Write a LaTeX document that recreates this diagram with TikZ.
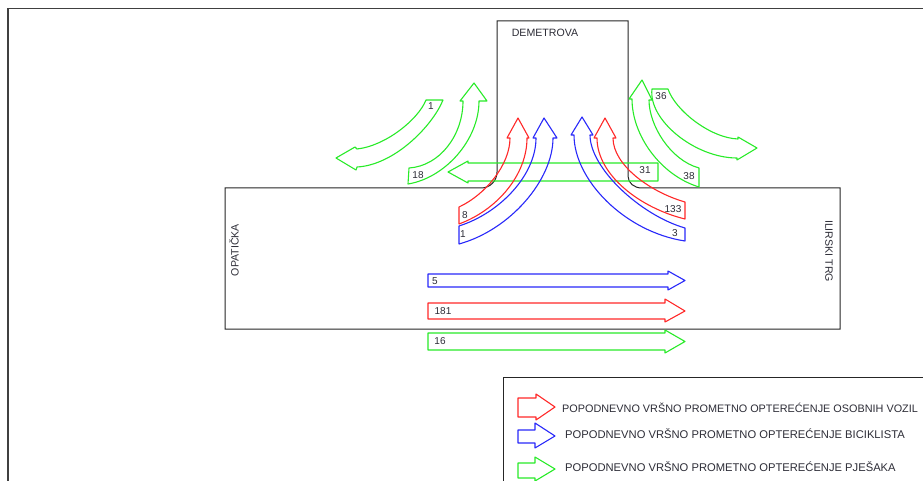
\documentclass[tikz,border=0pt]{standalone}
\usepackage{fontspec}
\setmainfont{Liberation Sans}
\definecolor{ared}{RGB}{255,40,40}
\definecolor{ablue}{RGB}{40,40,250}
\definecolor{agreen}{RGB}{40,235,40}
\definecolor{txt}{RGB}{45,45,55}
\begin{document}
\begin{tikzpicture}[x=1pt,y=-1pt,
  road/.style={draw=black!85,line width=1pt},
  frame/.style={draw=black!75,line width=1.8pt},
  redarr/.style={draw=ared,line width=1.1pt,line join=round},
  bluearr/.style={draw=ablue,line width=1.1pt,line join=round},
  greenarr/.style={draw=agreen,line width=1.1pt,line join=round},
  lbl/.style={text=txt,font=\fontsize{10.6}{12}\selectfont,inner sep=0pt},
  num/.style={text=txt,font=\fontsize{10}{12}\selectfont,inner sep=0pt},
  leg/.style={text=txt,font=\fontsize{11.2}{12}\selectfont,inner sep=0pt,anchor=west}]
\useasboundingbox (0,0) rectangle (923,481);
\fill[white] (0,0) rectangle (923,481);
% outer frame
\draw[frame] (8,490) -- (8,8.5) -- (935,8.5);
% road outline
\draw[road] (225,329) -- (225,188) -- (481,188) .. controls (490,188) and (497,181) .. (497,172)
  -- (497,21) -- (628,21) -- (628,176) .. controls (628,183) and (634,188) .. (642,188)
  -- (840,188) -- (840,329) -- cycle;
% street names
\node[lbl] (dem) at (545,33) {DEMETROVA};
\node[lbl,rotate=90] (opa) at (234,250) {OPATIČKA};
\node[lbl,rotate=-90] (ili) at (829,251) {ILIRSKI TRG};
% green pedestrian arrows top-left
\draw[greenarr] (426,100) -- (443,100) .. controls (433,125) and (395,165) .. (357,167)
  -- (356,170) -- (336,158) -- (355,147) -- (357,149) .. controls (385,146) and (418,120) .. (426,100) -- cycle;
\draw[greenarr] (409,168) .. controls (440,166) and (463,135) .. (463,101) -- (460,101) -- (474,83)
  -- (487,101) -- (479,101) .. controls (479,140) and (445,178) .. (408,184) -- cycle;
% green top-right
\draw[greenarr] (652,89) -- (668,89) .. controls (675,110) and (710,138) .. (738,139) -- (738,137)
  -- (757,148) -- (737,160) -- (737,158) .. controls (695,158) and (648,120) .. (652,89) -- cycle;
\draw[greenarr] (699,168) .. controls (670,160) and (649,125) .. (649,100) -- (652,100) -- (642,80)
  -- (629,99) -- (632,99) .. controls (632,135) and (660,175) .. (699,187) -- cycle;
% green crossing 31
\draw[greenarr] (658,163) -- (468,163) -- (468,161) -- (448,172) -- (468,183) -- (468,181) -- (658,181) -- cycle;
% red and blue turning arrows
\draw[redarr] (459,207) .. controls (485,195) and (510,165) .. (510,138) -- (507,138) -- (518,118)
  -- (529,138) -- (527,138) .. controls (527,175) and (497,210) .. (459,224) -- cycle;
\draw[bluearr] (459,226) .. controls (500,213) and (536,175) .. (536,138) -- (533,138) -- (544,118)
  -- (557,138) -- (553,138) .. controls (553,180) and (510,230) .. (459,244) -- cycle;
\draw[redarr] (685,202) .. controls (650,192) and (613,165) .. (613,138) -- (616,138) -- (605,118)
  -- (594,138) -- (597,138) .. controls (597,175) and (640,208) .. (685,219) -- cycle;
\draw[bluearr] (685,228) .. controls (640,215) and (590,168) .. (590,135) -- (593,135) -- (582,117)
  -- (571,135) -- (574,135) .. controls (574,180) and (625,232) .. (685,241) -- cycle;
% straight arrows
\draw[bluearr] (428,274) -- (668,274) -- (668,271) -- (685,280.5) -- (668,290) -- (668,287) -- (428,287) -- cycle;
\draw[redarr] (428,303) -- (665,303) -- (665,299) -- (685,311) -- (665,322) -- (665,319) -- (428,319) -- cycle;
\draw[greenarr] (428,333) -- (665,333) -- (665,330) -- (685,341.5) -- (665,353) -- (665,350) -- (428,350) -- cycle;
% numbers
\node[num] (n1) at (431,106) {1};
\node[num] (n18) at (418,175) {18};
\node[num] (n36) at (661,96) {36};
\node[num] (n38) at (689,176) {38};
\node[num] (n31) at (645,170) {31};
\node[num] (n8) at (465,215) {8};
\node[num] (nb1) at (463,234) {1};
\node[num] (n133) at (673,209) {133};
\node[num] (n3) at (675,233) {3};
\node[num] (n5) at (435,281) {5};
\node[num] (n181) at (443,311) {181};
\node[num] (n16) at (440,341) {16};
% legend
\draw[road] (503,490) -- (503,377) -- (935,377);
\draw[redarr] (518,398) -- (536,398) -- (536,394) -- (555,407) -- (536,420) -- (536,417) -- (518,417) -- cycle;
\draw[bluearr] (518,430) -- (535,430) -- (535,423) -- (555,436) -- (535,448) -- (535,443) -- (518,443) -- cycle;
\draw[greenarr] (518,463) -- (535,463) -- (535,457) -- (555,469) -- (535,481) -- (535,478) -- (518,478) -- cycle;
\node[leg,font=\fontsize{10.85}{12}\selectfont] (l1) at (562,407.5) {POPODNEVNO VRŠNO PROMETNO OPTEREĆENJE OSOBNIH VOZIL};
\node[leg] (l2) at (565,434) {POPODNEVNO VRŠNO PROMETNO OPTEREĆENJE BICIKLISTA};
\node[leg] (l3) at (565,467) {POPODNEVNO VRŠNO PROMETNO OPTEREĆENJE PJEŠAKA};
\end{tikzpicture}
\end{document}
